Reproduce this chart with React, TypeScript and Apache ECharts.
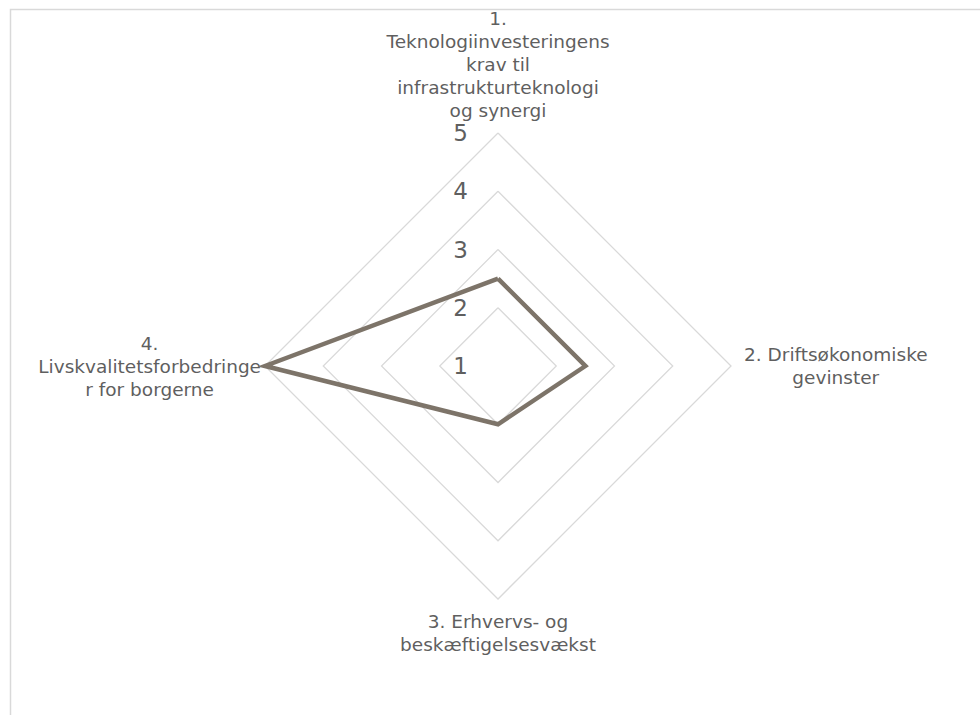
import React, { useEffect, useRef } from "react";
import * as echarts from "echarts";

// Indicators in the order ECharts lays them out (counter-clockwise from the top)
const categories = [
  "1.\nTeknologiinvesteringens\nkrav til\ninfrastrukturteknologi\nog synergi",
  "4.\nLivskvalitetsforbedringe\nr for borgerne",
  "3. Erhvervs- og\nbeskæftigelsesvækst",
  "2. Driftsøkonomiske\ngevinster",
];
const nameGaps = [11, 4, 11, 13];
const scores = [2.5, 5, 2, 2.5];
const scaleMin = 1;
const scaleMax = 5;

const TEXT = "#5f5f5f";
const GRID = "#d9d9d9";
const LINE = "#7d7469";
const FONT = "'DejaVu Sans', Verdana, sans-serif";

export default function App() {
  const ref = useRef<HTMLDivElement>(null);

  useEffect(() => {
    if (!ref.current) return;
    const chart = echarts.init(ref.current, undefined, { renderer: "svg" });

    const indicator = categories.map((name, i) => ({
      name,
      min: scaleMin,
      max: scaleMax,
      nameGap: nameGaps[i],
      axisLabel:
        i === 0
          ? {
              show: true,
              margin: 30,
              fontSize: 23,
              lineHeight: 18,
              color: TEXT,
              fontFamily: FONT,
            }
          : { show: false },
    }));

    chart.setOption({
      animation: false,
      backgroundColor: "#ffffff",
      graphic: [
        {
          type: "rect",
          silent: true,
          shape: { x: 10.5, y: 9.5, width: 1000, height: 1000 },
          style: { fill: "none", stroke: GRID, lineWidth: 1.5 },
        },
      ],
      radar: {
        center: [498, 366],
        radius: 233,
        startAngle: 90,
        shape: "polygon",
        splitNumber: 4,
        indicator,
        axisName: {
          color: TEXT,
          fontFamily: FONT,
          fontSize: 18.5,
          formatter: (name: string) =>
            name
              .split("\n")
              .map((l) => `{c|${l}}`)
              .join("\n"),
          rich: {
            c: {
              align: "center",
              fontSize: 18.5,
              lineHeight: 23,
              color: TEXT,
              fontFamily: FONT,
            },
          },
        },
        axisLine: { show: false },
        axisTick: { show: false },
        axisLabel: { show: false },
        splitLine: { lineStyle: { color: GRID, width: 1.25 } },
        splitArea: { show: false },
      },
      series: [
        {
          type: "radar",
          symbol: "none",
          lineStyle: { color: LINE, width: 4.5, join: "miter" },
          itemStyle: { color: LINE },
          data: [{ value: scores, name: "Score" }],
        },
      ],
    });

    return () => chart.dispose();
  }, []);

  return (
    <div
      ref={ref}
      style={{ position: "fixed", left: 0, top: 0, width: 980, height: 715 }}
    />
  );
}
